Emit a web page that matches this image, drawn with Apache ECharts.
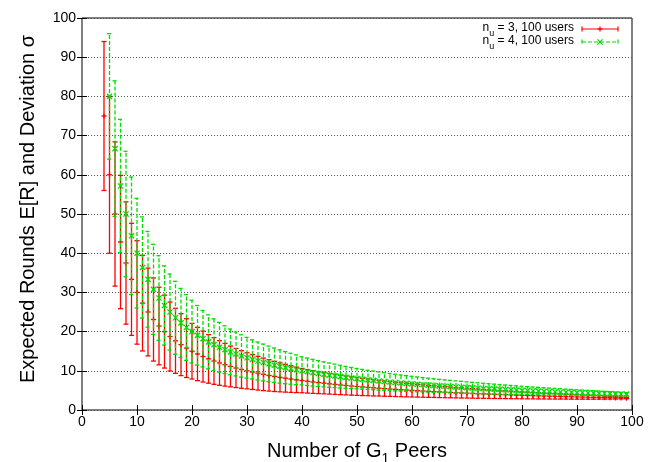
<!DOCTYPE html>
<html><head><meta charset="utf-8">
<script src="https://cdn.jsdelivr.net/npm/echarts@6/dist/echarts.min.js"></script>
<style>html,body{margin:0;padding:0;background:#fff}#c{width:661px;height:462px}</style>
</head><body><div id="c"></div>
<script>
// ---- data ----
const peersNu3 = [4,5,6,7,8,9,
  10,11,12,13,14,15,16,17,18,19,
  20,21,22,23,24,25,26,27,28,29,
  30,31,32,33,34,35,36,37,38,39,
  40,41,42,43,44,45,46,47,48,49,
  50,51,52,53,54,55,56,57,58,59,
  60,61,62,63,64,65,66,67,68,69,
  70,71,72,73,74,75,76,77,78,79,
  80,81,82,83,84,85,86,87,88,89,
  90,91,92,93,94,95,96,97,98,99];
const meanNu3 = [75,60,50,42.86,37.5,33.33,
  30,27.27,25,23.08,21.43,20,18.75,17.65,16.67,15.79,
  15,14.29,13.64,13.04,12.5,12,11.54,11.11,10.71,10.34,
  10,9.68,9.38,9.09,8.82,8.57,8.33,8.11,7.89,7.69,
  7.5,7.32,7.14,6.98,6.82,6.67,6.52,6.38,6.25,6.12,
  6,5.88,5.77,5.66,5.56,5.45,5.36,5.26,5.17,5.08,
  5,4.92,4.84,4.76,4.69,4.62,4.55,4.48,4.41,4.35,
  4.29,4.23,4.17,4.11,4.05,4,3.95,3.9,3.85,3.8,
  3.75,3.7,3.66,3.61,3.57,3.53,3.49,3.45,3.41,3.37,
  3.33,3.3,3.26,3.23,3.19,3.16,3.13,3.09,3.06,3.03];
const sigmaNu3 = [19,20,18.4,17,15.6,14.3,
  13.2,12.2,11.2,10.6,9.9,9.3,8.8,8.3,7.9,7.5,
  7.1,6.8,6.5,6.2,5.95,5.7,5.45,5.2,5.0,4.8,
  4.6,4.45,4.3,4.15,4.0,3.85,3.7,3.55,3.4,3.25,
  3.1,3.0,2.9,2.8,2.7,2.62,2.54,2.47,2.4,2.33,
  2.26,2.2,2.13,2.07,2.0,1.94,1.89,1.83,1.78,1.73,
  1.68,1.63,1.58,1.54,1.49,1.45,1.41,1.37,1.33,1.29,
  1.25,1.21,1.17,1.13,1.1,1.06,1.03,0.99,0.96,0.92,
  0.89,0.86,0.82,0.79,0.76,0.73,0.7,0.66,0.63,0.6,
  0.56,0.53,0.5,0.46,0.42,0.38,0.34,0.29,0.23,0.16];

const peersNu4 = [5,6,7,8,9,
  10,11,12,13,14,15,16,17,18,19,
  20,21,22,23,24,25,26,27,28,29,
  30,31,32,33,34,35,36,37,38,39,
  40,41,42,43,44,45,46,47,48,49,
  50,51,52,53,54,55,56,57,58,59,
  60,61,62,63,64,65,66,67,68,69,
  70,71,72,73,74,75,76,77,78,79,
  80,81,82,83,84,85,86,87,88,89,
  90,91,92,93,94,95,96,97,98,99];
const meanNu4 = [80,66.67,57.14,50,44.44,
  40,36.36,33.33,30.77,28.57,26.67,25,23.53,22.22,21.05,
  20,19.05,18.18,17.39,16.67,16,15.38,14.81,14.29,13.79,
  13.33,12.9,12.5,12.12,11.76,11.43,11.11,10.81,10.53,10.26,
  10,9.76,9.52,9.3,9.09,8.89,8.7,8.51,8.33,8.16,
  8,7.84,7.69,7.55,7.41,7.27,7.14,7.02,6.9,6.78,
  6.67,6.56,6.45,6.35,6.25,6.15,6.06,5.97,5.88,5.8,
  5.71,5.63,5.56,5.48,5.41,5.33,5.26,5.19,5.13,5.06,
  5,4.94,4.88,4.82,4.76,4.71,4.65,4.6,4.55,4.49,
  4.44,4.4,4.35,4.3,4.26,4.21,4.17,4.12,4.08,4.04];
const sigmaNu4 = [16,17.3,17,16,15,
  14,12.9,12.2,11.5,10.8,10.1,9.7,9.3,8.8,8.4,
  8.0,7.6,7.2,6.9,6.6,6.35,6.1,5.85,5.6,5.4,
  5.2,5.0,4.85,4.7,4.55,4.4,4.25,4.1,3.95,3.8,
  3.6,3.5,3.4,3.3,3.2,3.1,3.0,2.9,2.8,2.7,
  2.6,2.52,2.45,2.38,2.31,2.24,2.17,2.11,2.05,1.99,
  1.93,1.88,1.83,1.78,1.73,1.68,1.63,1.59,1.55,1.51,
  1.47,1.43,1.39,1.35,1.31,1.27,1.23,1.19,1.15,1.11,
  1.07,1.03,0.99,0.96,0.93,0.89,0.86,0.83,0.79,0.76,
  0.73,0.69,0.66,0.62,0.59,0.55,0.51,0.47,0.43,0.39];

const xTicks = [0,10,20,30,40,50,60,70,80,90,100];
const yTicks = [0,10,20,30,40,50,60,70,80,90,100];
const legendLabels = ['{a|n}{s|u}{a| = 3, 100 users}', '{a|n}{s|u}{a| = 4, 100 users}'];

// ---- styles ----
const RED = '#ff0000';
const GREEN = '#00dd00';
const FONT = 'Liberation Sans, Arial, Helvetica, sans-serif';

function toRows(px, m, s) {
  return px.map((x, i) => [x, m[i], m[i] - s[i], m[i] + s[i]]);
}

function makeRender(color, dashed, marker) {
  return function (params, api) {
    const x = api.value(0), m = api.value(1), lo = api.value(2), hi = api.value(3);
    const pm = api.coord([x, m]), pl = api.coord([x, lo]), ph = api.coord([x, hi]);
    const cap = 2.5, ms = 2.6;
    const st = { stroke: color, lineWidth: 1.3, fill: null, lineDash: dashed ? [4, 2] : null };
    const st2 = { stroke: color, lineWidth: 1.3, fill: null };
    const ch = [
      { type: 'line', shape: { x1: pm[0], y1: pl[1], x2: pm[0], y2: ph[1] }, style: st },
      { type: 'line', shape: { x1: pm[0] - cap, y1: pl[1], x2: pm[0] + cap, y2: pl[1] }, style: st },
      { type: 'line', shape: { x1: pm[0] - cap, y1: ph[1], x2: pm[0] + cap, y2: ph[1] }, style: st }
    ];
    if (marker === 'plus') {
      ch.push({ type: 'line', shape: { x1: pm[0] - ms, y1: pm[1], x2: pm[0] + ms, y2: pm[1] }, style: st2 });
      ch.push({ type: 'line', shape: { x1: pm[0], y1: pm[1] - ms, x2: pm[0], y2: pm[1] + ms }, style: st2 });
    } else {
      ch.push({ type: 'line', shape: { x1: pm[0] - ms, y1: pm[1] - ms, x2: pm[0] + ms, y2: pm[1] + ms }, style: st2 });
      ch.push({ type: 'line', shape: { x1: pm[0] - ms, y1: pm[1] + ms, x2: pm[0] + ms, y2: pm[1] - ms }, style: st2 });
    }
    return { type: 'group', children: ch };
  };
}

const chart = echarts.init(document.getElementById('c'), null, { renderer: 'canvas' });

const G = { left: 82, right: 29, top: 18, bottom: 52 };

function legendEntry(y, label, color, dashed, marker) {
  const x1 = 582, x2 = 618, xm = 600, cap = 2.5, ms = 2.6;
  const st = { stroke: color, lineWidth: 1.2, fill: null, lineDash: dashed ? [4, 2] : null };
  const st2 = { stroke: color, lineWidth: 1.2, fill: null };
  const els = [
    { type: 'text', x: 574, y: y + 1, style: { text: label, align: 'right', verticalAlign: 'middle', fill: '#000',
      font: '12px ' + FONT,
      rich: { a: { fontSize: 12, fontFamily: FONT, fill: '#000', lineHeight: 13, verticalAlign: 'top' },
              s: { fontSize: 9, fontFamily: FONT, fill: '#000', lineHeight: 16, verticalAlign: 'bottom' } } } },
    { type: 'line', shape: { x1: x1, y1: y, x2: x2, y2: y }, style: st },
    { type: 'line', shape: { x1: x1, y1: y - cap, x2: x1, y2: y + cap }, style: st },
    { type: 'line', shape: { x1: x2, y1: y - cap, x2: x2, y2: y + cap }, style: st }
  ];
  if (marker === 'plus') {
    els.push({ type: 'line', shape: { x1: xm - ms, y1: y, x2: xm + ms, y2: y }, style: st2 });
    els.push({ type: 'line', shape: { x1: xm, y1: y - ms, x2: xm, y2: y + ms }, style: st2 });
  } else {
    els.push({ type: 'line', shape: { x1: xm - ms, y1: y - ms, x2: xm + ms, y2: y + ms }, style: st2 });
    els.push({ type: 'line', shape: { x1: xm - ms, y1: y + ms, x2: xm + ms, y2: y - ms }, style: st2 });
  }
  return els;
}

const axisCommon = {
  type: 'value', min: xTicks[0], max: xTicks[xTicks.length - 1], interval: 10,
  axisLine: { show: false },
  axisTick: { show: true, inside: true, length: 5, lineStyle: { color: '#000', width: 1 } },
  splitLine: { show: false }
};

chart.setOption({
  animation: false,
  backgroundColor: '#fff',
  grid: { left: G.left, right: G.right, top: G.top, bottom: G.bottom, show: true,
          borderColor: '#000', borderWidth: 1, backgroundColor: 'transparent' },
  xAxis: [
    Object.assign({}, axisCommon, { position: 'bottom',
      axisLabel: { show: true, color: '#000', fontSize: 14, fontFamily: FONT, margin: 5 } }),
    Object.assign({}, axisCommon, { position: 'top', axisLabel: { show: false } })
  ],
  yAxis: [
    Object.assign({}, axisCommon, { min: yTicks[0], max: yTicks[yTicks.length - 1], position: 'left',
      axisLabel: { show: true, color: '#000', fontSize: 14, fontFamily: FONT, margin: 6 },
      splitLine: { show: true, lineStyle: { color: '#555', width: 1, type: [1, 2] } } }),
    Object.assign({}, axisCommon, { min: yTicks[0], max: yTicks[yTicks.length - 1], position: 'right',
      axisLabel: { show: false } })
  ],
  series: [
    { type: 'custom', name: 'nu3', xAxisIndex: 0, yAxisIndex: 0, clip: true,
      renderItem: makeRender(RED, false, 'plus'), data: toRows(peersNu3, meanNu3, sigmaNu3),
      encode: { x: 0, y: [1, 2, 3] } },
    { type: 'custom', name: 'nu4', xAxisIndex: 0, yAxisIndex: 0, clip: true,
      renderItem: makeRender(GREEN, true, 'cross'), data: toRows(peersNu4, meanNu4, sigmaNu4),
      encode: { x: 0, y: [1, 2, 3] } }
  ],
  graphic: [
    { type: 'text', x: 357, y: 454, style: { text: '{a|Number of G}{s|1}{a| Peers}', align: 'center', verticalAlign: 'middle',
      fill: '#000', font: '20px ' + FONT,
      rich: { a: { fontSize: 20, fontFamily: FONT, fill: '#000', lineHeight: 21, verticalAlign: 'top' },
              s: { fontSize: 14, fontFamily: FONT, fill: '#000', lineHeight: 25, verticalAlign: 'bottom' } } } },
    { type: 'text', x: 28, y: 209, rotation: Math.PI / 2,
      style: { text: 'Expected Rounds E[R] and Deviation σ', align: 'center', verticalAlign: 'middle',
        fill: '#000', font: '20px ' + FONT } }
  ].concat(legendEntry(29, legendLabels[0], RED, false, 'plus'))
   .concat(legendEntry(42, legendLabels[1], GREEN, true, 'cross'))
});
</script>
</body></html>
